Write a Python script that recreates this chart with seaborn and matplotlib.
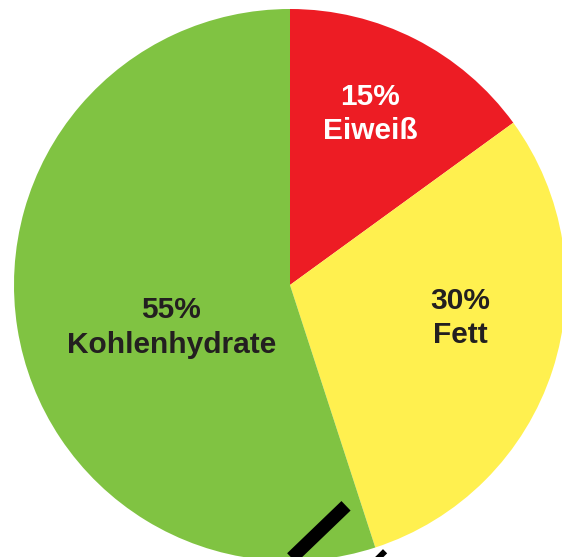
import matplotlib
matplotlib.use("Agg")
import matplotlib.pyplot as plt
import seaborn as sns

# data
categories = ["Eiweiß", "Fett", "Kohlenhydrate"]
shares = [15, 30, 55]
colors = ["#ED1C24", "#FFF04F", "#80C342"]
text_colors = ["white", "#231F20", "#231F20"]
label_pos = [(0.29, 0.62), (0.618, -0.12), (-0.43, -0.155)]

sns.set_style("white")
plt.rcParams["font.family"] = ["Liberation Sans", "DejaVu Sans"]

fig = plt.figure(figsize=(5.62, 5.57), dpi=100)
ax = fig.add_axes([0, 0, 1, 1])

ax.pie(shares, colors=colors, startangle=90, counterclock=False,
       radius=1, wedgeprops=dict(linewidth=0))

for cat, val, tc, (x, y) in zip(categories, shares, text_colors, label_pos):
    ax.text(x, y, f"{val}%\n{cat}", ha="center", va="center", color=tc,
            fontsize=21.5, fontweight="bold", linespacing=1.3)

# black pointer bars at the bottom edge
ax.plot([0.203, 0.0], [-0.80, -0.995], color="black", lw=9.5,
        solid_capstyle="butt")
ax.plot([0.32, 0.40], [-0.974, -1.054], color="black", lw=9.5,
        solid_capstyle="butt")

ax.set_xlim(-1.0507, 0.9855)
ax.set_ylim(-0.9855, 1.0326)
ax.set_aspect("auto")
ax.axis("off")

fig.savefig("out.png", dpi=100)
